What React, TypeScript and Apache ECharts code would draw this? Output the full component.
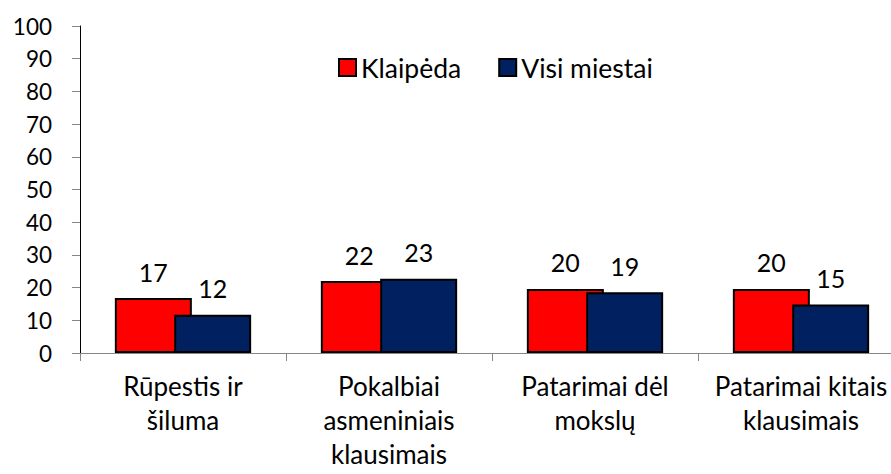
import React, { useEffect, useRef } from "react";
import * as echarts from "echarts";

const categories = ["Rūpestis ir\nšiluma", "Pokalbiai\nasmeniniais\nklausimais", "Patarimai dėl\nmokslų", "Patarimai kitais\nklausimais"];
const klaipeda = [16.8, 22.0, 19.6, 19.6];
const visiMiestai = [11.7, 22.7, 18.6, 14.8];
const seriesNames = ["Klaipėda", "Visi miestai"];
const yTicks = { min: 0, max: 100, interval: 10 };

const FONT = "Lato";

export default function App() {
  const ref = useRef<HTMLDivElement>(null);
  useEffect(() => {
    if (!ref.current) return;
    const chart = echarts.init(ref.current, null, { renderer: "svg" });
    const label = {
      show: true,
      position: "top" as const,
      distance: 14,
      color: "#000",
      fontFamily: FONT,
      fontSize: 25,
      formatter: (p: any) => String(Math.round(p.value)),
    };
    chart.setOption({
      animation: false,
      grid: { left: 80, top: 26, bottom: 121, right: 0, containLabel: false, outerBoundsMode: "none" },
      legend: {
        left: 333,
        top: 49,
        itemWidth: 17,
        itemHeight: 17,
        itemGap: 37,
        icon: "rect",
        textStyle: { fontFamily: FONT, fontSize: 26.5, color: "#000" },
        data: seriesNames,
      },
      xAxis: {
        type: "category",
        data: categories,
        axisLine: { lineStyle: { color: "#868686", width: 1 } },
        axisTick: { show: true, length: 8, alignWithLabel: false, lineStyle: { color: "#868686" } },
        axisLabel: {
          fontFamily: FONT,
          fontSize: 26,
          color: "#000",
          lineHeight: 34,
          margin: 16,
          interval: 0,
        },
      },
      yAxis: {
        type: "value",
        min: yTicks.min,
        max: yTicks.max,
        interval: yTicks.interval,
        splitLine: { show: false },
        axisLine: { show: true, lineStyle: { color: "#000", width: 1 } },
        axisTick: { show: true, length: 8, lineStyle: { color: "#868686" } },
        axisLabel: { fontFamily: FONT, fontSize: 22.5, color: "#000", margin: 28 },
      },
      series: [
        {
          name: seriesNames[0],
          type: "bar",
          data: klaipeda,
          barWidth: 77,
          barGap: "-23%",
          itemStyle: { color: "#FF0000", borderColor: "#000", borderWidth: 2 },
          label,
        },
        {
          name: seriesNames[1],
          type: "bar",
          data: visiMiestai,
          barWidth: 77,
          barGap: "-23%",
          itemStyle: { color: "#002060", borderColor: "#000", borderWidth: 2 },
          label,
        },
      ],
    });
    return () => chart.dispose();
  }, []);
  return (
    <div style={{ position: "absolute", left: 0, top: 0, width: 891, height: 474, overflow: "hidden", background: "#fff" }}>
      <div ref={ref} style={{ width: 904, height: 474 }} />
    </div>
  );
}
